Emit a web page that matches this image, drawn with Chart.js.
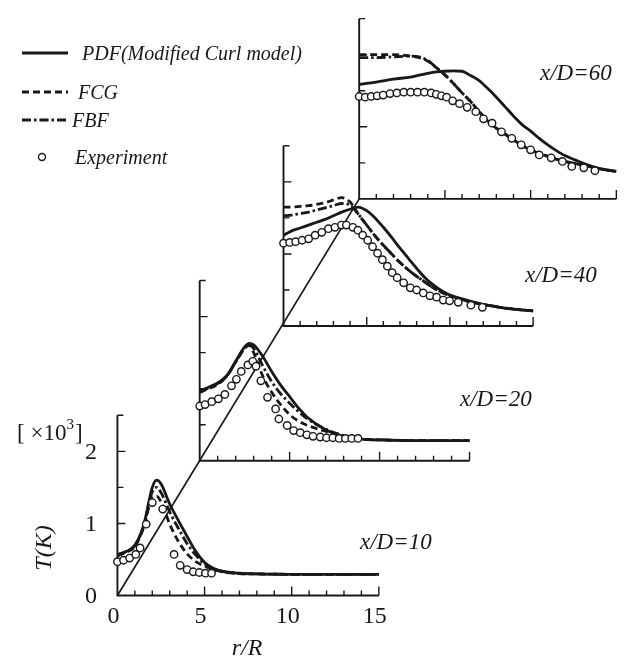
<!DOCTYPE html>
<html><head><meta charset="utf-8">
<script src="https://cdn.jsdelivr.net/npm/chart.js@4.4.1/dist/chart.umd.min.js"></script>
<style>html,body{margin:0;padding:0;background:#fff;overflow:hidden}#c{display:block}</style>
</head><body>
<canvas id="c" width="625" height="659"></canvas>
<script>
// ---------- data ----------
const panelLabels = ['x/D=10', 'x/D=20', 'x/D=40', 'x/D=60'];
const seriesNames = ['PDF(Modified Curl model)', 'FCG', 'FBF', 'Experiment'];
const xTickLabels = ['0', '5', '10', '15'];
const yTickLabels = ['0', '1', '2'];
const xTitle = 'r/R';
const yTitle = 'T(K)';

// x/D = 10
const r10   = [0,0.5,1,1.5,2,2.25,2.5,3,3.5,4,4.5,5,5.5,6,7,8,10,12,15];
const pdf10 = [0.57,0.61,0.70,0.97,1.50,1.60,1.55,1.27,1.04,0.82,0.61,0.46,0.38,0.34,0.31,0.30,0.295,0.295,0.295];
const fcg10 = [0.55,0.60,0.68,0.94,1.36,1.38,1.30,0.99,0.75,0.58,0.47,0.41,0.36,0.33,0.305,0.30,0.295,0.295,0.295];
const fbf10 = [0.56,0.61,0.69,0.96,1.44,1.50,1.43,1.16,0.93,0.72,0.56,0.44,0.37,0.335,0.305,0.30,0.295,0.295,0.295];
const rExp10 = [0,0.35,0.7,1.05,1.3,1.65,2.0,2.6,3.25,3.6,4.0,4.35,4.7,5.05,5.4];
const exp10  = [0.47,0.49,0.52,0.57,0.66,0.99,1.29,1.20,0.57,0.42,0.36,0.33,0.32,0.31,0.31];

// x/D = 20
const r20   = [0,0.5,1,1.5,2,2.5,2.75,3,3.5,4,4.5,5,5.5,6,7,8,9,10,12,15];
const pdf20 = [0.97,1.02,1.08,1.18,1.38,1.58,1.63,1.61,1.45,1.24,1.05,0.89,0.73,0.60,0.43,0.34,0.30,0.29,0.28,0.28];
const fcg20 = [0.95,1.00,1.06,1.17,1.37,1.56,1.60,1.50,1.18,0.95,0.78,0.64,0.55,0.49,0.41,0.34,0.30,0.29,0.28,0.28];
const fbf20 = [0.96,1.01,1.07,1.17,1.37,1.57,1.61,1.56,1.32,1.10,0.93,0.80,0.68,0.58,0.44,0.35,0.30,0.29,0.28,0.28];
const rExp20 = [0,0.3,0.67,1.04,1.4,1.77,2.04,2.31,2.68,2.95,3.13,3.4,3.77,4.22,4.4,4.86,5.22,5.59,5.96,6.3,6.7,7.05,7.4,7.75,8.1,8.45,8.8];
const exp20  = [0.76,0.78,0.82,0.86,0.92,1.04,1.13,1.24,1.33,1.38,1.31,1.11,0.88,0.72,0.58,0.49,0.42,0.39,0.36,0.34,0.33,0.32,0.32,0.31,0.31,0.31,0.31];

// x/D = 40
const r40   = [0,0.5,1,1.5,2,2.5,3,3.5,4,4.5,5,5.5,6,6.5,7,7.5,8,8.5,9,9.5,10,11,12,13,14,15];
const pdf40 = [1.26,1.32,1.36,1.40,1.44,1.48,1.53,1.58,1.62,1.65,1.60,1.50,1.37,1.23,1.08,0.94,0.80,0.67,0.57,0.49,0.43,0.36,0.30,0.26,0.23,0.21];
const fcg40 = [1.65,1.65,1.66,1.67,1.69,1.71,1.75,1.78,1.72,1.55,1.40,1.25,1.12,1.00,0.88,0.78,0.69,0.61,0.53,0.47,0.42,0.35,0.30,0.26,0.23,0.21];
const fbf40 = [1.53,1.54,1.56,1.58,1.61,1.64,1.67,1.70,1.68,1.55,1.40,1.25,1.12,1.00,0.88,0.78,0.69,0.61,0.53,0.47,0.42,0.35,0.30,0.26,0.23,0.21];
const rExp40 = [0,0.37,0.73,1.12,1.51,1.9,2.3,2.7,3.09,3.48,3.78,4.17,4.47,4.76,5.06,5.35,5.65,5.94,6.24,6.53,6.83,7.22,7.62,8.0,8.4,8.8,9.2,9.6,9.98,10.5,11.26,11.95];
const exp40  = [1.15,1.16,1.17,1.19,1.21,1.26,1.30,1.35,1.37,1.40,1.40,1.37,1.33,1.26,1.19,1.10,1.01,0.92,0.83,0.74,0.67,0.60,0.53,0.50,0.46,0.42,0.40,0.36,0.35,0.33,0.29,0.26];

// x/D = 60
const r60   = [0,1,2,3,3.5,4,4.5,5,5.5,6,6.5,7,7.5,8,8.5,9,9.5,10,10.5,11,11.5,12,13,14,15];
const pdf60 = [1.59,1.62,1.66,1.69,1.715,1.74,1.76,1.77,1.775,1.77,1.71,1.64,1.53,1.41,1.28,1.15,1.03,0.94,0.84,0.75,0.67,0.60,0.50,0.42,0.38];
const fcg60 = [2.00,2.00,2.00,1.98,1.96,1.91,1.82,1.72,1.60,1.47,1.35,1.21,1.08,0.98,0.90,0.82,0.74,0.68,0.63,0.59,0.55,0.52,0.47,0.42,0.38];
const fbf60 = [1.96,1.96,1.97,1.98,1.97,1.92,1.82,1.72,1.60,1.47,1.35,1.21,1.08,0.98,0.90,0.82,0.74,0.68,0.63,0.59,0.55,0.52,0.47,0.42,0.38];
const rExp60 = [0,0.35,0.7,1.05,1.4,1.8,2.2,2.6,3.0,3.4,3.8,4.2,4.5,4.8,5.1,5.45,5.85,6.3,6.8,7.25,7.75,8.3,8.9,9.45,10.0,10.5,11.2,11.85,12.4,13.1,13.75];
const exp60  = [1.42,1.41,1.42,1.43,1.44,1.46,1.47,1.48,1.48,1.48,1.48,1.47,1.45,1.43,1.41,1.36,1.32,1.27,1.21,1.11,1.05,0.93,0.84,0.75,0.68,0.61,0.57,0.52,0.45,0.43,0.39];

// ---------- layout (pixels) ----------
const W = 625, H = 659;
const INK = '#181818';
const SERIF = "'Liberation Serif','DejaVu Serif',serif";
const R_MAX = 15, T_MAX = 2.5;
const Y_PX = 73.3;                       // px per 1 (x10^3 K)
const boxes = [                           // origin and r-axis length of each panel
  {ox: 114,   oy: 600,   len: 266},
  {ox: 197.7, oy: 463,   len: 274.6},
  {ox: 283,   oy: 326,   len: 254},
  {ox: 360,   oy: 196.7, len: 261.7}
];
const labelPos = [[360,549],[460,406],[525,282],[540,80]];

const panels = [
  {r: r10, pdf: pdf10, fcg: fcg10, fbf: fbf10, re: rExp10, ex: exp10},
  {r: r20, pdf: pdf20, fcg: fcg20, fbf: fbf20, re: rExp20, ex: exp20},
  {r: r40, pdf: pdf40, fcg: fcg40, fbf: fbf40, re: rExp40, ex: exp40},
  {r: r60, pdf: pdf60, fcg: fcg60, fbf: fbf60, re: rExp60, ex: exp60}
];

const pts = (xs, ys) => xs.map((x, i) => ({x: x, y: ys[i]}));
const lineStyles = [
  {dash: [], width: 2.8},
  {dash: [7, 4], width: 2.8},
  {dash: [9, 3, 2.5, 3], width: 2.8}
];

const datasets = [];
const scales = {};
panels.forEach((p, i) => {
  const b = boxes[i];
  const kx = b.len / R_MAX;
  scales['x' + i] = {type: 'linear', display: false, min: -b.ox / kx, max: (W - b.ox) / kx};
  scales['y' + i] = {type: 'linear', display: false, min: -(H - b.oy) / Y_PX, max: b.oy / Y_PX};
  [p.pdf, p.fcg, p.fbf].forEach((ys, s) => {
    datasets.push({
      label: seriesNames[s], data: pts(p.r, ys), xAxisID: 'x' + i, yAxisID: 'y' + i,
      borderColor: INK, borderWidth: lineStyles[s].width, borderDash: lineStyles[s].dash,
      pointRadius: 0, fill: false, cubicInterpolationMode: 'monotone', showLine: true, order: 1
    });
  });
  datasets.push({
    label: seriesNames[3], data: pts(p.re, p.ex), xAxisID: 'x' + i, yAxisID: 'y' + i,
    showLine: false, pointRadius: 3.7, pointBorderWidth: 1.4, pointStyle: 'circle',
    borderColor: INK, backgroundColor: '#fff', pointBackgroundColor: '#fff', order: 0
  });
});

const decor = {
  id: 'waterfallDecor',
  beforeDatasetsDraw(chart) {
    const ctx = chart.ctx;
    ctx.save();
    ctx.strokeStyle = INK;
    ctx.lineCap = 'butt';
    // diagonal joining the panel origins
    const o0x = chart.scales.x0.getPixelForValue(0), o0y = chart.scales.y0.getPixelForValue(0);
    const o3x = chart.scales.x3.getPixelForValue(0), o3y = chart.scales.y3.getPixelForValue(0);
    ctx.lineWidth = 1.7;
    ctx.beginPath(); ctx.moveTo(o0x, o0y); ctx.lineTo(o3x, o3y); ctx.stroke();
    for (let i = 0; i < 4; i++) {
      const xs = chart.scales['x' + i], ys = chart.scales['y' + i];
      const x0 = xs.getPixelForValue(0), x1 = xs.getPixelForValue(R_MAX);
      const y0 = ys.getPixelForValue(0), y1 = ys.getPixelForValue(T_MAX);
      ctx.lineWidth = 1.9;
      ctx.beginPath(); ctx.moveTo(x0, y1); ctx.lineTo(x0, y0); ctx.lineTo(x1, y0); ctx.stroke();
      ctx.lineWidth = 1.4;
      ctx.beginPath();
      for (let v = 1; v <= R_MAX; v++) {
        const px = xs.getPixelForValue(v);
        const l = v % 5 === 0 ? 9 : 5;
        ctx.moveTo(px, y0); ctx.lineTo(px, y0 - l);
      }
      for (let v = 0.5; v <= T_MAX + 1e-9; v += 0.5) {
        const py = ys.getPixelForValue(v);
        const l = Math.abs(v - Math.round(v)) < 1e-9 ? 8 : 6;
        ctx.moveTo(x0, py); ctx.lineTo(x0 + l, py);
      }
      ctx.stroke();
    }
    ctx.restore();
  },
  afterDraw(chart) {
    const ctx = chart.ctx;
    ctx.save();
    ctx.fillStyle = INK;
    const xs = chart.scales.x0, ys = chart.scales.y0;
    // tick labels of the front panel
    ctx.font = '24px ' + SERIF;
    ctx.textAlign = 'center'; ctx.textBaseline = 'alphabetic';
    xTickLabels.forEach(t => ctx.fillText(t, xs.getPixelForValue(+t) - 4, 623));
    ctx.textAlign = 'right'; ctx.textBaseline = 'middle';
    yTickLabels.forEach(t => ctx.fillText(t, 97, ys.getPixelForValue(+t) + 1));
    // unit
    ctx.textAlign = 'left'; ctx.textBaseline = 'alphabetic';
    ctx.font = '23px ' + SERIF;
    ctx.fillText('[ \u00d710', 17, 440);
    let w = ctx.measureText('[ \u00d710').width;
    ctx.font = '15px ' + SERIF;
    ctx.fillText('3', 17 + w, 429);
    let w2 = ctx.measureText('3').width;
    ctx.font = '23px ' + SERIF;
    ctx.fillText(']', 17 + w + w2 + 1, 440);
    // axis titles
    ctx.font = 'italic 24px ' + SERIF;
    ctx.textAlign = 'center';
    ctx.fillText(xTitle, 247, 655);
    ctx.save();
    ctx.translate(51, 548); ctx.rotate(-Math.PI / 2);
    ctx.fillText(yTitle, 0, 0);
    ctx.restore();
    // panel labels
    ctx.textAlign = 'left';
    ctx.font = 'italic 23px ' + SERIF;
    panelLabels.forEach((t, i) => ctx.fillText(t, labelPos[i][0], labelPos[i][1]));
    // legend
    const legY = [53, 92, 120, 157];
    const legTx = [82, 78, 72, 75];
    ctx.font = 'italic 20px ' + SERIF;
    ctx.strokeStyle = INK;
    for (let s = 0; s < 3; s++) {
      ctx.lineWidth = 3;
      ctx.setLineDash(lineStyles[s].dash);
      ctx.beginPath(); ctx.moveTo(22, legY[s]); ctx.lineTo(68, legY[s]); ctx.stroke();
      ctx.setLineDash([]);
      ctx.fillText(seriesNames[s], legTx[s], legY[s] + 7);
    }
    ctx.lineWidth = 1.4;
    ctx.fillStyle = '#fff';
    ctx.beginPath(); ctx.arc(42, legY[3], 3.5, 0, Math.PI * 2); ctx.fill(); ctx.stroke();
    ctx.fillStyle = INK;
    ctx.fillText(seriesNames[3], legTx[3], legY[3] + 7);
    ctx.restore();
  }
};

new Chart(document.getElementById('c'), {
  type: 'scatter',
  data: {datasets: datasets},
  options: {
    responsive: false, animation: false, devicePixelRatio: 1, events: [],
    layout: {padding: 0},
    scales: scales,
    plugins: {legend: {display: false}, tooltip: {enabled: false}, title: {display: false}}
  },
  plugins: [decor]
});
</script>
</body></html>
